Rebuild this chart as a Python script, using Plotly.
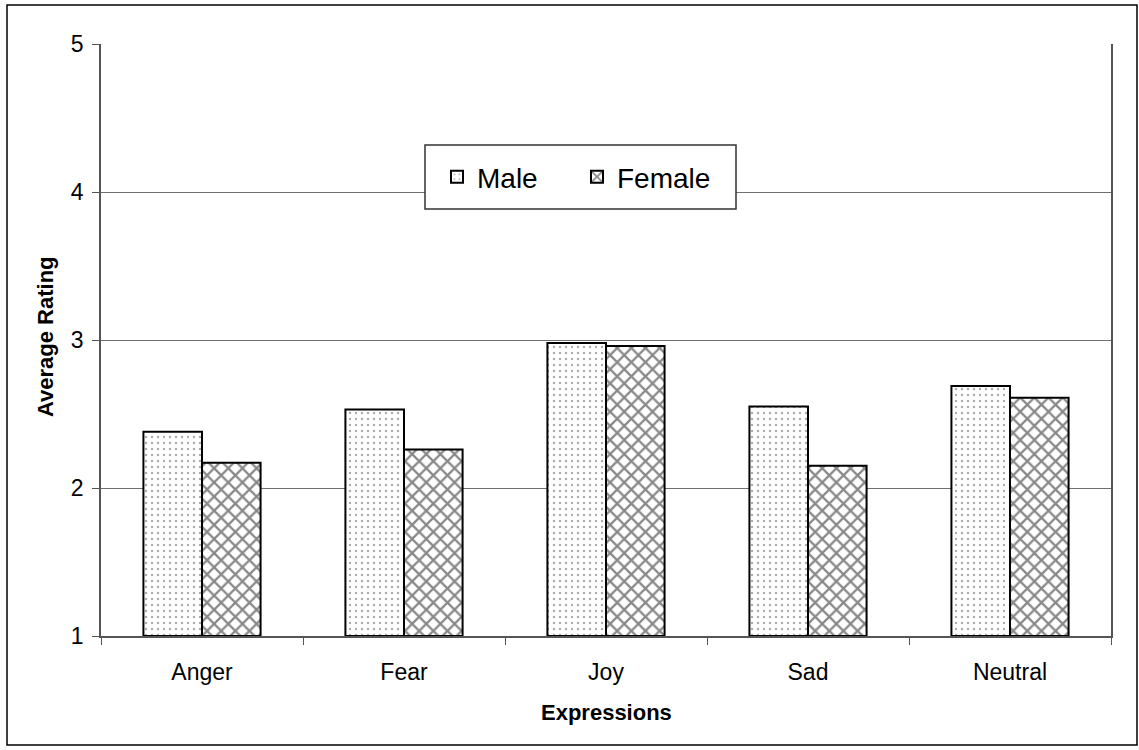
import plotly.graph_objects as go

categories = ["Anger", "Fear", "Joy", "Sad", "Neutral"]
male = [2.38, 2.53, 2.98, 2.55, 2.69]
female = [2.17, 2.26, 2.96, 2.15, 2.61]
y_ticks = [1, 2, 3, 4, 5]

FONT = "Liberation Sans, Arial, sans-serif"

fig = go.Figure()
fig.add_trace(go.Bar(
    name="Male", x=categories, y=[v - 1 for v in male], base=1,
    marker=dict(color="white", line=dict(color="black", width=2),
                pattern=dict(shape=".", fgcolor="#555555", bgcolor="white",
                             size=6, solidity=0.12)),
))
fig.add_trace(go.Bar(
    name="Female", x=categories, y=[v - 1 for v in female], base=1,
    marker=dict(color="white", line=dict(color="black", width=2),
                pattern=dict(shape="x", fgcolor="#111111", bgcolor="white",
                             size=10, solidity=0.4)),
))

fig.update_layout(
    width=1139, height=750,
    margin=dict(l=101, r=28, t=44, b=114),
    paper_bgcolor="white", plot_bgcolor="white",
    font=dict(family=FONT, color="black", size=23),
    barmode="group", bargap=0.42, bargroupgap=0,
    showlegend=True,
    legend=dict(orientation="h", x=(437 - 101) / 1010, y=(636 - 152) / 592,
                xanchor="left", yanchor="top",
                bgcolor="rgba(0,0,0,0)", borderwidth=0,
                font=dict(size=28, family=FONT), entrywidth=95,
                itemsizing="constant"),
    xaxis=dict(showgrid=False, tickson="boundaries", ticks="outside", ticklen=7,
               tickcolor="#555555", showline=True, linecolor="#555555", linewidth=1.5,
               tickfont=dict(size=23), ticklabelstandoff=15),
    yaxis=dict(range=[1, 5], tickvals=y_ticks, showgrid=True, gridcolor="#707070",
               gridwidth=1, ticks="outside", ticklen=7, tickcolor="#555555",
               showline=True, linecolor="#555555", linewidth=1.5, mirror=True,
               zeroline=False, tickfont=dict(size=23), ticklabelstandoff=4),
    annotations=[
        dict(text="<b>Expressions</b>", xref="paper", yref="paper",
             x=0.5, y=(636 - 712) / 592, xanchor="center", yanchor="middle",
             showarrow=False, font=dict(size=22, family=FONT)),
        dict(text="<b>Average Rating</b>", xref="paper", yref="paper",
             x=(45 - 101) / 1010, y=(636 - 337) / 592, xanchor="center", yanchor="middle",
             textangle=-90, showarrow=False, font=dict(size=22, family=FONT)),
    ],
    shapes=[
        dict(type="rect", xref="paper", yref="paper",
             x0=(7 - 101) / 1010, x1=(1137 - 101) / 1010,
             y0=(636 - 745) / 592, y1=(636 - 5) / 592,
             line=dict(color="black", width=1.5), layer="below"),
        dict(type="rect", xref="paper", yref="paper",
             x0=(425 - 101) / 1010, x1=(736 - 101) / 1010,
             y0=(636 - 209) / 592, y1=(636 - 145) / 592,
             fillcolor="white", line=dict(color="#333333", width=1.5), layer="above"),
    ],
)

fig.write_html("out.html")
